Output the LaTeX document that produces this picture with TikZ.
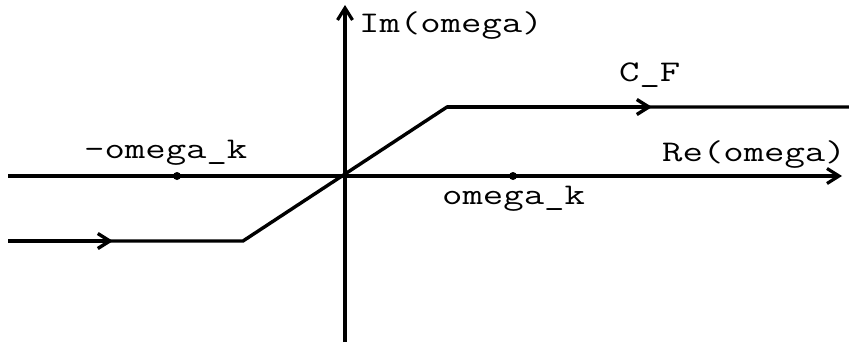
\documentclass[tikz,border=0pt]{standalone}
\usepackage{fontspec}
\usepackage{graphicx}
\usetikzlibrary{arrows.meta,positioning}
\newcommand{\lbltext}[1]{\scalebox{1.32}[1]{#1}}
\tikzset{
  lbl/.style={font=\ttfamily\fontsize{30}{36}\selectfont,inner sep=0pt},
  dot/.style={circle,fill,inner sep=0pt,minimum size=8pt},
  axis/.style={->,line width=3.2pt},
  contour/.style={line width=3.4pt,line join=miter}
}
\begin{document}
\begin{tikzpicture}[x=1pt,y=-1pt,>={Straight Barb[length=12pt,width=15pt]}]
  \useasboundingbox (0,0) rectangle (849,348);
  % axes
  \coordinate (xL) at (8,176);
  \coordinate (xR) at (842,176);
  \coordinate (yB) at (345,342);
  \coordinate (yT) at (345,5);
  \draw[axis] (xL)--(xR);
  \draw[axis] (yB)--(yT);
  % poles
  \node[dot] (wm) at (177,176) {};
  \node[dot] (wp) at (513,176) {};
  % contour C_F
  \coordinate (c0) at (8,241);
  \coordinate (c1) at (243,241);
  \coordinate (c2) at (447,107);
  \coordinate (c3) at (849,107);
  \draw[contour] (c0)--(c1)--(c2)--(c3);
  \draw[contour,->] (c0)--(113,241);
  \draw[contour,->] (c2)--(652,107);
  % labels
  \node[lbl,anchor=base west] (im) at (359,32) {\lbltext{Im(omega)}};
  \node[lbl,anchor=base west] (re) at (662,161) {\lbltext{Re(omega)}};
  \node[lbl,anchor=base west] (cf) at (619,81) {\lbltext{C\_F}};
  \node[lbl,anchor=base west] (lm) at (84,158) {\lbltext{-omega\_k}};
  \node[lbl,anchor=base west] (lp) at (442,204) {\lbltext{omega\_k}};
\end{tikzpicture}
\end{document}
